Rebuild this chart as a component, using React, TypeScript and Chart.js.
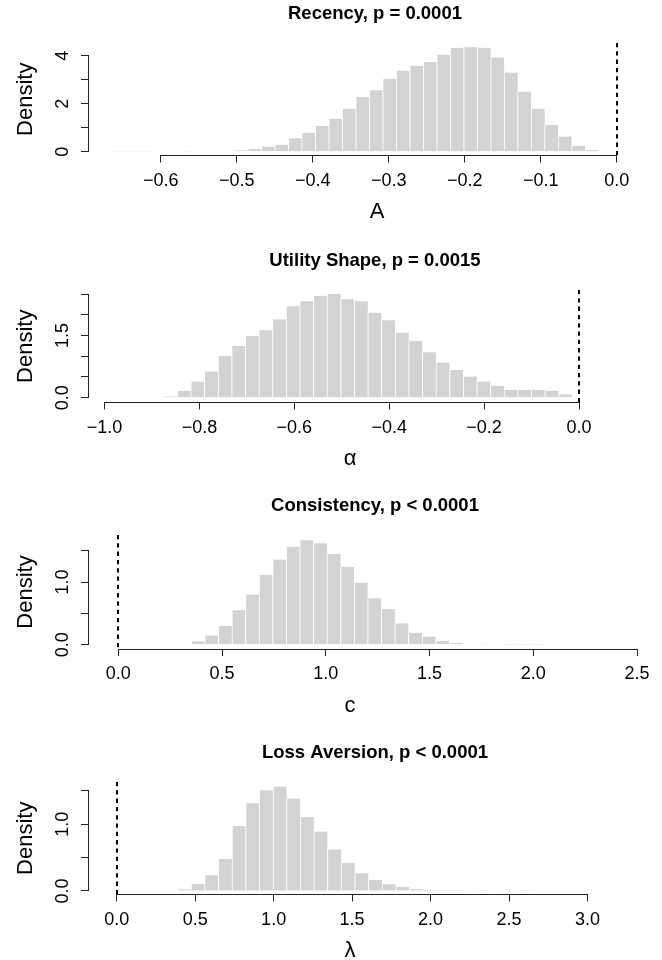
import React, { useEffect, useRef } from "react";
import { Chart, registerables } from "chart.js";

Chart.register(...registerables);
Chart.defaults.font.family = "'Liberation Sans', Arial, Helvetica, sans-serif";
Chart.defaults.color = "#000";

// ---------------- data ----------------
const panelTitles = [
  "Recency, p = 0.0001",
  "Utility Shape, p = 0.0015",
  "Consistency, p < 0.0001",
  "Loss Aversion, p < 0.0001",
];
const xLabels = ["A", "\u03b1", "c", "\u03bb"];

// histogram bins: first break and bin width
const recencyBinStart = -0.663;
const recencyBinWidth = 0.017756;
const recencyDensity = [
  0.01, 0.01, 0.01, 0, 0, 0.01, 0, 0, 0,
  0.055, 0.12, 0.21, 0.29, 0.56, 0.78, 1.08, 1.375, 1.78, 2.28, 2.56, 3.03,
  3.375, 3.58, 3.74, 4.04, 4.33, 4.35, 4.33, 3.92, 3.3, 2.5, 1.78, 1.11,
  0.63, 0.245, 0.075,
];

const utilityBinStart = -0.8755;
const utilityBinWidth = 0.0287;
const utilityDensity = [
  0.03, 0.17, 0.39, 0.63, 1.01, 1.25, 1.49, 1.63, 1.89, 2.21, 2.33, 2.46,
  2.51, 2.38, 2.33, 2.05, 1.87, 1.57, 1.37, 1.1, 0.85, 0.67, 0.51, 0.39,
  0.29, 0.19, 0.19, 0.19, 0.17, 0.08, 0.02,
];

const consistencyBinStart = 0.2858;
const consistencyBinWidth = 0.06543;
const consistencyDensity = [
  0.005, 0.054, 0.145, 0.3, 0.55, 0.8, 1.115, 1.36, 1.565, 1.67, 1.62, 1.45,
  1.24, 0.99, 0.74, 0.57, 0.34, 0.19, 0.13, 0.06, 0.03, 0.008, 0.003, 0,
  0.002, 0.002, 0.002,
];

const lossBinStart = 0.3872;
const lossBinWidth = 0.0869;
const lossDensity = [
  0.025, 0.105, 0.235, 0.48, 0.975, 1.315, 1.51, 1.565, 1.385, 1.11, 0.89,
  0.62, 0.42, 0.265, 0.165, 0.1, 0.06, 0.03, 0.015, 0.005, 0.003, 0, 0.002,
  0, 0, 0.002,
];

// axis ticks
const recencyXTicks = [-0.6, -0.5, -0.4, -0.3, -0.2, -0.1, 0];
const utilityXTicks = [-1, -0.8, -0.6, -0.4, -0.2, 0];
const consistencyXTicks = [0, 0.5, 1, 1.5, 2, 2.5];
const lossXTicks = [0, 0.5, 1, 1.5, 2, 2.5, 3];

const recencyYTicks = [0, 1, 2, 3, 4];
const recencyYLabelled = [0, 2, 4];
const utilityYTicks = [0, 0.5, 1, 1.5, 2, 2.5];
const utilityYLabelled = [0, 1.5];
const consistencyYTicks = [0, 0.5, 1, 1.5];
const consistencyYLabelled = [0, 1];
const lossYTicks = [0, 0.5, 1, 1.5];
const lossYLabelled = [0, 1];

// axis ranges
const xRanges = [
  [-0.6957, 0.0596],
  [-1.0348, 0.1749],
  [-0.146, 2.62],
  [-0.183, 3.475],
];
const yRanges = [
  [-0.158, 4.529],
  [-0.116, 2.601],
  [-0.069, 1.752],
  [-0.053, 1.634],
];

// ---------------- layout / style ----------------
const W = 662;
const H = 221;
const AXIS = "#222";
const BAR = "#d3d3d3";
const FONT = "'Liberation Sans', Arial, Helvetica, sans-serif";

type PanelCfg = {
  title: string;
  xLabel: string;
  binStart: number;
  binWidth: number;
  density: number[];
  xTicks: number[];
  yTicks: number[];
  yLabelled: number[];
  yDecimals: number;
  xRange: number[];
  yRange: number[];
  top: number;
  plotBottom: number;
  yPad: number;
  xLabelX: number;
};

const panels: PanelCfg[] = [
  {
    title: panelTitles[0], xLabel: xLabels[0],
    binStart: recencyBinStart, binWidth: recencyBinWidth, density: recencyDensity,
    xTicks: recencyXTicks, yTicks: recencyYTicks, yLabelled: recencyYLabelled, yDecimals: 0,
    xRange: xRanges[0], yRange: yRanges[0], top: 0, plotBottom: 155.5, yPad: 13, xLabelX: 377,
  },
  {
    title: panelTitles[1], xLabel: xLabels[1],
    binStart: utilityBinStart, binWidth: utilityBinWidth, density: utilityDensity,
    xTicks: utilityXTicks, yTicks: utilityYTicks, yLabelled: utilityYLabelled, yDecimals: 1,
    xRange: xRanges[1], yRange: yRanges[1], top: 247, plotBottom: 155.5, yPad: 5.5, xLabelX: 350,
  },
  {
    title: panelTitles[2], xLabel: xLabels[2],
    binStart: consistencyBinStart, binWidth: consistencyBinWidth, density: consistencyDensity,
    xTicks: consistencyXTicks, yTicks: consistencyYTicks, yLabelled: consistencyYLabelled, yDecimals: 1,
    xRange: xRanges[2], yRange: yRanges[2], top: 492, plotBottom: 157, yPad: 5.5, xLabelX: 350,
  },
  {
    title: panelTitles[3], xLabel: xLabels[3],
    binStart: lossBinStart, binWidth: lossBinWidth, density: lossDensity,
    xTicks: lossXTicks, yTicks: lossYTicks, yLabelled: lossYLabelled, yDecimals: 1,
    xRange: xRanges[3], yRange: yRanges[3], top: 739, plotBottom: 155.5, yPad: 5.5, xLabelX: 350,
  },
];

const fmtX = (v: number) => {
  const s = Math.abs(v).toFixed(1);
  return v < -1e-9 ? "\u2212" + s : s;
};

const rAxesPlugin = {
  id: "rAxes",
  afterDatasetsDraw(chart: any, _args: any, opts: any) {
    const { ctx, chartArea, scales } = chart;
    const x = scales.x;
    const y = scales.y;
    ctx.save();
    // dashed reference line at zero
    const x0 = Math.round(x.getPixelForValue(0));
    ctx.strokeStyle = "#000";
    ctx.lineWidth = 2;
    ctx.setLineDash([4.3, 4]);
    ctx.beginPath();
    ctx.moveTo(x0, chartArea.top);
    ctx.lineTo(x0, chartArea.bottom);
    ctx.stroke();
    ctx.setLineDash([]);
    // R-style axis lines spanning first..last tick
    ctx.strokeStyle = AXIS;
    ctx.lineWidth = 1;
    const xt = x.ticks;
    const yb = Math.round(chartArea.bottom - 0.5) + 0.5;
    ctx.beginPath();
    ctx.moveTo(Math.round(x.getPixelForValue(xt[0].value) - 0.5), yb);
    ctx.lineTo(Math.round(x.getPixelForValue(xt[xt.length - 1].value) - 0.5) + 1, yb);
    ctx.stroke();
    const yt = y.ticks;
    const xl = Math.round(chartArea.left - 0.5) + 0.5;
    ctx.beginPath();
    ctx.moveTo(xl, Math.round(y.getPixelForValue(yt[0].value) - 0.5) + 1);
    ctx.lineTo(xl, Math.round(y.getPixelForValue(yt[yt.length - 1].value) - 0.5));
    ctx.stroke();
    // x-axis label (R xlab)
    if (opts && opts.label) {
      ctx.fillStyle = "#000";
      ctx.font = "22px " + FONT;
      ctx.textAlign = "center";
      ctx.textBaseline = "middle";
      ctx.fillText(opts.label, opts.labelX, chartArea.bottom + 56.5);
    }
    ctx.restore();
  },
};

function Panel({ cfg }: { cfg: PanelCfg }) {
  const ref = useRef<HTMLCanvasElement | null>(null);
  useEffect(() => {
    const data = cfg.density.map((d, i) => ({
      x: cfg.binStart + (i + 0.5) * cfg.binWidth,
      y: d,
    }));
    const chart = new Chart(ref.current as HTMLCanvasElement, {
      type: "bar",
      data: {
        datasets: [
          {
            data: data as any,
            backgroundColor: BAR,
            borderColor: "#ffffff",
            borderWidth: { left: 1, right: 0, top: 0, bottom: 0 } as any,
            borderSkipped: false,
            barPercentage: 1,
            categoryPercentage: 1,
          },
        ],
      },
      options: {
        responsive: false,
        animation: false,
        events: [],
        layout: { padding: 0 },
        plugins: {
          legend: { display: false },
          tooltip: { enabled: false },
          title: {
            display: true,
            text: cfg.title,
            fullSize: false,
            color: "#000",
            font: { size: 18.5, weight: "bold", lineHeight: 1.2 },
            padding: { top: 2.9, bottom: 17.9 },
          },
          rAxes: { label: cfg.xLabel, labelX: cfg.xLabelX },
        },
        scales: {
          x: {
            type: "linear",
            min: cfg.xRange[0],
            max: cfg.xRange[1],
            offset: false,
            afterBuildTicks: (s: any) => {
              s.ticks = cfg.xTicks.map((v) => ({ value: v }));
            },
            afterFit: (s: any) => {
              s.height = H - cfg.plotBottom;
            },
            grid: {
              offset: false,
              drawOnChartArea: false,
              drawTicks: true,
              tickLength: 7,
              color: AXIS,
              lineWidth: 1,
            },
            border: { display: false },
            ticks: {
              autoSkip: false,
              maxRotation: 0,
              minRotation: 0,
              padding: 7.5,
              color: "#000",
              font: { size: 18 },
              callback: (v: any) => fmtX(Number(v)),
            },
            title: { display: false },
          },
          y: {
            type: "linear",
            min: cfg.yRange[0],
            max: cfg.yRange[1],
            afterBuildTicks: (s: any) => {
              s.ticks = cfg.yTicks.map((v) => ({ value: v }));
            },
            afterFit: (s: any) => {
              s.width = 88;
            },
            grid: {
              drawOnChartArea: false,
              drawTicks: true,
              tickLength: 7,
              color: AXIS,
              lineWidth: 1,
            },
            border: { display: false },
            ticks: {
              autoSkip: false,
              minRotation: 90,
              maxRotation: 90,
              crossAlign: "center",
              padding: cfg.yPad,
              color: "#000",
              font: { size: 18 },
              callback: (v: any) => {
                const n = Number(v);
                return cfg.yLabelled.some((l) => Math.abs(l - n) < 1e-9)
                  ? n.toFixed(cfg.yDecimals)
                  : "";
              },
            },
            title: {
              display: true,
              text: "Density",
              color: "#000",
              font: { size: 22, lineHeight: 1.2 },
              padding: { top: 12.4, bottom: 0 },
            },
          },
        },
      } as any,
      plugins: [rAxesPlugin],
    });
    return () => chart.destroy();
  }, [cfg]);
  return (
    <canvas
      ref={ref}
      width={W}
      height={H}
      style={{ position: "absolute", left: 0, top: cfg.top, width: W, height: H }}
    />
  );
}

export default function App() {
  return (
    <div
      style={{
        position: "absolute",
        left: 0,
        top: 0,
        width: W,
        height: 960,
        overflow: "hidden",
        background: "#fff",
      }}
    >
      {panels.map((p, i) => (
        <Panel key={i} cfg={p} />
      ))}
    </div>
  );
}
